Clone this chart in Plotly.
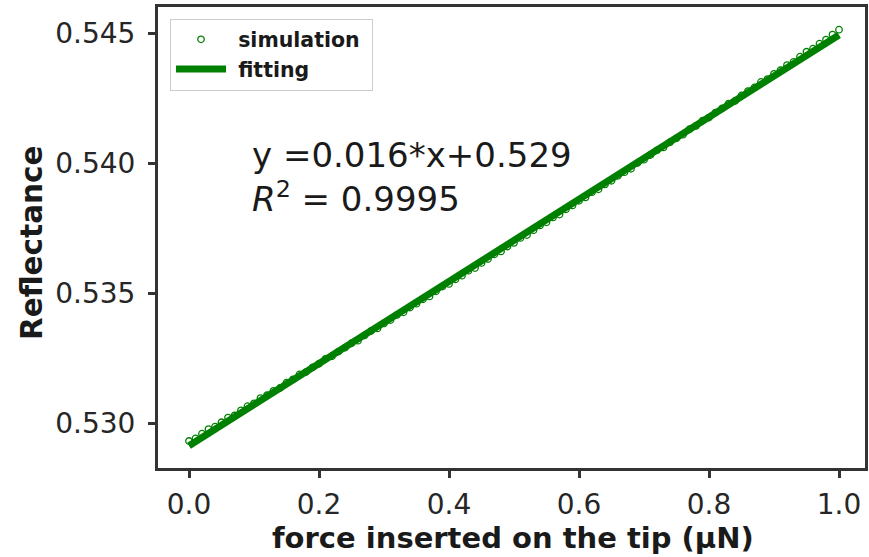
import numpy as np
import plotly.graph_objects as go

# ---- data ----
force = [round(i * 0.01, 2) for i in range(101)]
reflectance = [
    0.52932, 0.52942, 0.52960, 0.52978, 0.52987, 0.53004, 0.53022, 0.53030, 0.53050, 0.53066,
    0.53077, 0.53097, 0.53108, 0.53125, 0.53136, 0.53156, 0.53169, 0.53188, 0.53197, 0.53215,
    0.53229, 0.53248, 0.53258, 0.53276, 0.53291, 0.53308, 0.53318, 0.53338, 0.53355, 0.53365,
    0.53384, 0.53397, 0.53417, 0.53427, 0.53445, 0.53460, 0.53477, 0.53488, 0.53508, 0.53526,
    0.53536, 0.53554, 0.53568, 0.53587, 0.53597, 0.53617, 0.53632, 0.53650, 0.53661, 0.53680,
    0.53694, 0.53713, 0.53724, 0.53743, 0.53761, 0.53773, 0.53792, 0.53803, 0.53823, 0.53838,
    0.53856, 0.53869, 0.53889, 0.53900, 0.53919, 0.53933, 0.53952, 0.53966, 0.53979, 0.54001,
    0.54014, 0.54032, 0.54050, 0.54061, 0.54081, 0.54096, 0.54110, 0.54131, 0.54144, 0.54164,
    0.54176, 0.54195, 0.54211, 0.54229, 0.54240, 0.54261, 0.54278, 0.54292, 0.54313, 0.54324,
    0.54344, 0.54358, 0.54378, 0.54390, 0.54410, 0.54429, 0.54441, 0.54460, 0.54476, 0.54495,
    0.54514,
]
x_ticks = [0.0, 0.2, 0.4, 0.6, 0.8, 1.0]
x_tick_labels = ["0.0", "0.2", "0.4", "0.6", "0.8", "1.0"]
y_ticks = [0.530, 0.535, 0.540, 0.545]
y_tick_labels = ["0.530", "0.535", "0.540", "0.545"]
x_title = "force inserted on the tip (μN)"
y_title = "Reflectance"
eq_text = "y =0.016*x+0.529"
r2_text = "<i>R</i><sup>2</sup> = 0.9995"

# linear fit of the simulation
slope, intercept = np.polyfit(force, reflectance, 1)
fit = [slope * x + intercept for x in force]

GREEN = "#008000"
SPINE = "#333333"
TEXT = "#1a1a1a"
FONT = "DejaVu Sans"

fig = go.Figure()
fig.add_trace(go.Scatter(
    x=force, y=reflectance, mode="markers", name="\u00a0simulation\u00a0",
    marker=dict(symbol="circle-open", size=6.5, color=GREEN, line=dict(width=1.3, color=GREEN)),
))
fig.add_trace(go.Scatter(
    x=force, y=fit, mode="lines", name="\u00a0fitting",
    line=dict(color=GREEN, width=7),
))

fig.add_annotation(x=0.094, y=0.54032, xref="x", yref="y", text=eq_text, showarrow=False,
                   xanchor="left", yanchor="middle", font=dict(family=FONT, size=34, color=TEXT))
fig.add_annotation(x=0.094, y=0.53871, xref="x", yref="y", text=r2_text, showarrow=False,
                   xanchor="left", yanchor="middle", font=dict(family=FONT, size=34, color=TEXT))

# axis titles placed as annotations (plot area: x 158..865 px, y 7..468 px)
fig.add_annotation(x=0.5015, y=-0.1518, xref="paper", yref="paper", text=x_title, showarrow=False,
                   xanchor="center", yanchor="middle",
                   font=dict(family=FONT, size=29, color=TEXT, weight="bold"))
fig.add_annotation(x=-0.1782, y=0.488, xref="paper", yref="paper", text=y_title, showarrow=False,
                   xanchor="center", yanchor="middle", textangle=-90,
                   font=dict(family=FONT, size=29.5, color=TEXT, weight="bold"))

axis_common = dict(
    showline=True, mirror=True, linewidth=3, linecolor=SPINE,
    ticks="outside", ticklen=7, tickwidth=3, tickcolor=SPINE,
    showgrid=False, zeroline=False, automargin=False,
    tickfont=dict(family=FONT, size=28, color="#262626"),
)

fig.update_layout(
    width=869, height=557,
    margin=dict(l=158, r=4, t=7, b=89),
    paper_bgcolor="white", plot_bgcolor="white",
    showlegend=True,
    legend=dict(
        x=0.017, y=0.975, xanchor="left", yanchor="top",
        bgcolor="white", bordercolor="#cccccc", borderwidth=1,
        font=dict(family=FONT, size=20.5, color=TEXT, weight="bold"),
        itemwidth=50, tracegroupgap=0,
    ),
    xaxis=dict(
        range=[-0.0477, 1.04], tickvals=x_ticks, ticktext=x_tick_labels,
        ticklabelstandoff=2,
        **axis_common,
    ),
    yaxis=dict(
        range=[0.528281, 0.546012], tickvals=y_ticks, ticktext=y_tick_labels,
        ticklabelstandoff=7,
        **axis_common,
    ),
)

fig.write_html("out.html", config={"displayModeBar": False},
               post_script="document.body.style.margin='0px';")
